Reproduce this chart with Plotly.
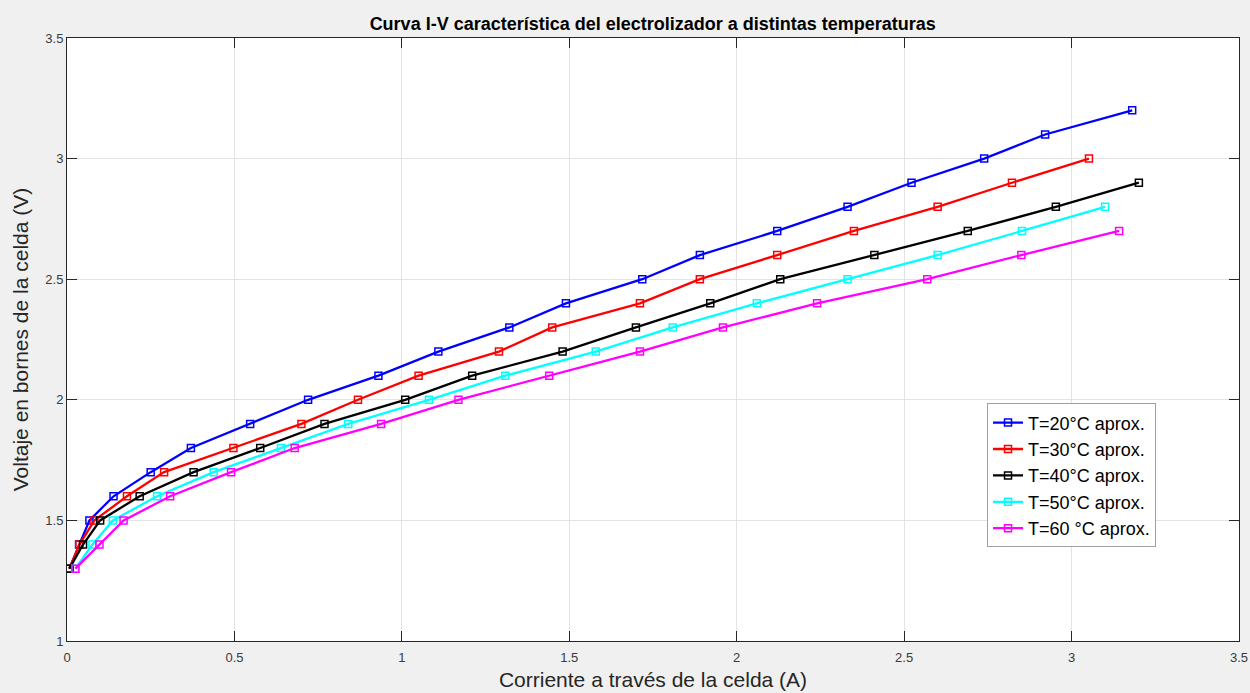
import plotly.graph_objects as go

# Data
v20 = [1.3, 1.4, 1.5, 1.6, 1.7, 1.8, 1.9, 2.0, 2.1, 2.2, 2.3, 2.4, 2.5, 2.6, 2.7, 2.8, 2.9, 3.0, 3.1, 3.2]
i20 = [0.007, 0.036, 0.067, 0.139, 0.250, 0.370, 0.547, 0.720, 0.930, 1.109, 1.321, 1.490, 1.718,
       1.890, 2.121, 2.331, 2.522, 2.739, 2.921, 3.181]

v30 = [1.3, 1.4, 1.5, 1.6, 1.7, 1.8, 1.9, 2.0, 2.1, 2.2, 2.3, 2.4, 2.5, 2.6, 2.7, 2.8, 2.9, 3.0]
i30 = [0.007, 0.037, 0.082, 0.179, 0.290, 0.497, 0.700, 0.869, 1.050, 1.290, 1.449, 1.711,
       1.890, 2.121, 2.350, 2.600, 2.822, 3.052]

v40 = [1.3, 1.4, 1.5, 1.6, 1.7, 1.8, 1.9, 2.0, 2.1, 2.2, 2.3, 2.4, 2.5, 2.6, 2.7, 2.8, 2.9]
i40 = [0.007, 0.048, 0.099, 0.217, 0.378, 0.577, 0.769, 1.010, 1.210, 1.480, 1.699, 1.921,
       2.130, 2.411, 2.690, 2.953, 3.201]

v50 = [1.3, 1.4, 1.5, 1.6, 1.7, 1.8, 1.9, 2.0, 2.1, 2.2, 2.3, 2.4, 2.5, 2.6, 2.7, 2.8]
i50 = [0.025, 0.076, 0.137, 0.269, 0.438, 0.639, 0.840, 1.081, 1.309, 1.579, 1.809, 2.060,
       2.331, 2.600, 2.852, 3.100]

v60 = [1.3, 1.4, 1.5, 1.6, 1.7, 1.8, 1.9, 2.0, 2.1, 2.2, 2.3, 2.4, 2.5, 2.6, 2.7]
i60 = [0.025, 0.097, 0.169, 0.308, 0.490, 0.680, 0.938, 1.169, 1.440, 1.711, 1.959, 2.240,
       2.569, 2.850, 3.142]

series = [
    ("T=20°C aprox.", i20, v20, "#0000ff"),
    ("T=30°C aprox.", i30, v30, "#ff0000"),
    ("T=40°C aprox.", i40, v40, "#000000"),
    ("T=50°C aprox.", i50, v50, "#00ffff"),
    ("T=60 °C aprox.", i60, v60, "#ff00ff"),
]

x_ticks = [0, 0.5, 1, 1.5, 2, 2.5, 3, 3.5]
x_tick_text = ["0", "0.5", "1", "1.5", "2", "2.5", "3", "3.5"]
y_ticks = [1, 1.5, 2, 2.5, 3, 3.5]
y_tick_text = ["1", "1.5", "2", "2.5", "3", "3.5"]

fig = go.Figure()
for name, xs, ys, col in series:
    fig.add_trace(go.Scatter(
        x=xs, y=ys, name=name, mode="lines+markers",
        line=dict(color=col, width=2.3),
        marker=dict(symbol="square-open", size=7, color=col, line=dict(width=1.5, color=col)),
    ))

font_family = "Liberation Sans, Arial, Helvetica, sans-serif"
axis_common = dict(
    showline=True, linecolor="#262626", linewidth=1, mirror="ticks",
    ticks="inside", ticklen=10, tickcolor="#262626", tickwidth=1,
    showgrid=True, gridcolor="#e3e3e3", gridwidth=1, zeroline=False,
    tickfont=dict(family=font_family, size=13, color="#3a3a3a"),
    automargin=False,
)

fig.update_layout(
    width=1250, height=693,
    paper_bgcolor="#f0f0f0", plot_bgcolor="#ffffff",
    margin=dict(l=67, r=11, t=38, b=52),
    title=dict(
        text="<b>Curva I-V característica del electrolizador a distintas temperaturas</b>",
        x=0.5222, xanchor="center", y=0.966, yanchor="middle",
        font=dict(family=font_family, size=18, color="#000000"),
    ),
    xaxis=dict(
        range=[0, 3.5], tickvals=x_ticks, ticktext=x_tick_text, ticklabelstandoff=4,
        title=dict(text="Corriente a través de la celda (A)", standoff=8,
                   font=dict(family=font_family, size=21, color="#262626")),
        **axis_common,
    ),
    yaxis=dict(
        range=[1, 3.5], tickvals=y_ticks, ticktext=y_tick_text,
        title=dict(text="Voltaje en bornes de la celda (V)", standoff=10,
                   font=dict(family=font_family, size=21, color="#262626")),
        **axis_common,
    ),
    legend=dict(
        x=0.785, y=0.394, xanchor="left", yanchor="top",
        bgcolor="#ffffff", bordercolor="#a0a0a0", borderwidth=1,
        font=dict(family=font_family, size=18, color="#000000"),
        tracegroupgap=0, itemwidth=30,
    ),
    showlegend=True,
)

fig.write_html("out.html", config={"displayModeBar": False},
               post_script="document.body.style.margin='0px';")
